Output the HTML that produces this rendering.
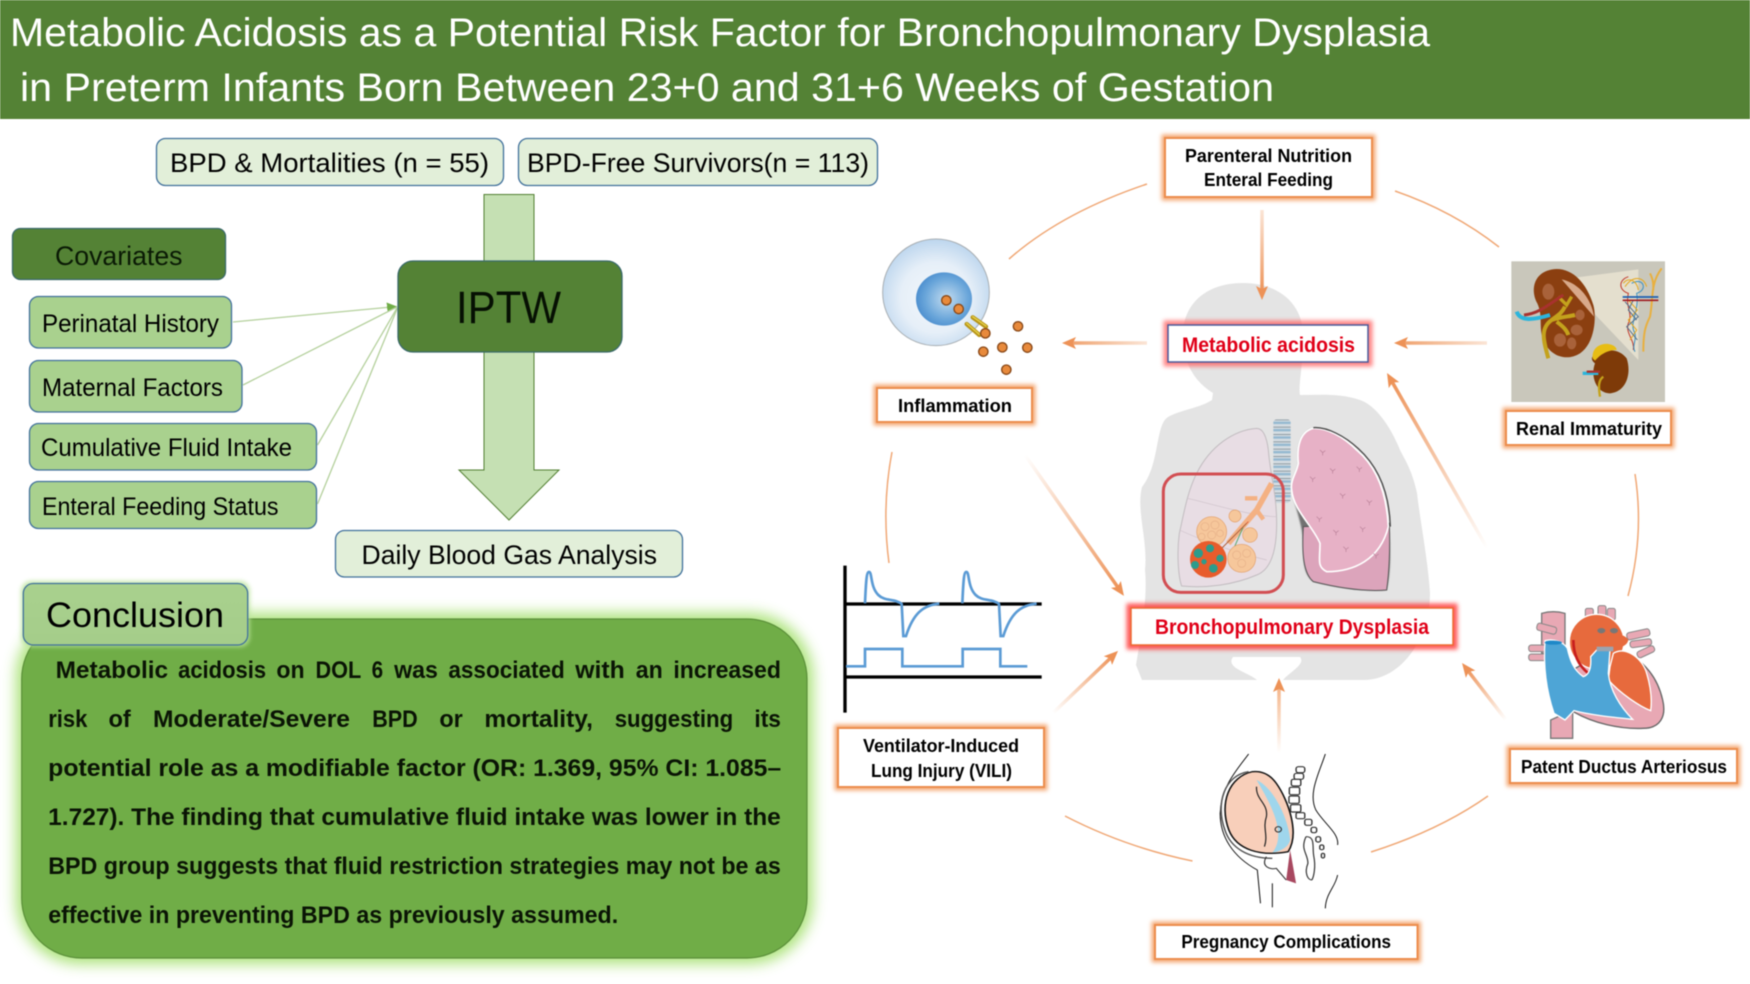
<!DOCTYPE html>
<html lang="en"><head><meta charset="utf-8"><title>Metabolic Acidosis and BPD</title>
<style>
html,body{margin:0;padding:0;background:#fff;width:1750px;height:984px;overflow:hidden}
svg{display:block;filter:blur(.45px)}
text{font-family:"Liberation Sans",sans-serif;fill:#000}
.t{fill:#fff;font-size:40px}
.l{font-size:25px}
.m{font-size:27px}
.p{font-size:24px;font-weight:bold;fill:#0a1405}
.b{font-size:18.5px;font-weight:bold}
.r{font-size:21.5px;font-weight:bold;fill:#e00018}
</style></head><body>
<svg width="1750" height="984" viewBox="0 0 1750 984" xmlns="http://www.w3.org/2000/svg">
<defs>
<filter id="g2" x="-20%" y="-30%" width="140%" height="160%"><feGaussianBlur stdDeviation="2"/></filter>
<filter id="g4" x="-20%" y="-20%" width="140%" height="140%"><feGaussianBlur stdDeviation="5"/></filter>
<filter id="g6" x="-10%" y="-10%" width="120%" height="120%"><feGaussianBlur stdDeviation="7"/></filter>
<marker id="ah" markerUnits="userSpaceOnUse" markerWidth="14" markerHeight="14" viewBox="0 0 14 14" refX="8" refY="7" orient="auto"><path d="M0 1 L14 7 L0 13 L3 7 Z" fill="#ed9257"/></marker>
<marker id="gh" markerUnits="userSpaceOnUse" markerWidth="10" markerHeight="10" viewBox="0 0 9 9" refX="9" refY="4.500" orient="auto"><path d="M0 0 L9 4.500 L0 9 Z" fill="#70ad47"/></marker>
<linearGradient id="a1" gradientUnits="userSpaceOnUse" x1="1262" y1="210" x2="1262" y2="294"><stop offset="0" stop-color="#fbe5d6"/><stop offset="1" stop-color="#ed9257"/></linearGradient>
<linearGradient id="a2" gradientUnits="userSpaceOnUse" x1="1147" y1="343" x2="1068" y2="343"><stop offset="0" stop-color="#fbe5d6"/><stop offset="1" stop-color="#efa06b"/></linearGradient>
<linearGradient id="a3" gradientUnits="userSpaceOnUse" x1="1487" y1="343" x2="1400" y2="343"><stop offset="0" stop-color="#fbe5d6"/><stop offset="1" stop-color="#efa06b"/></linearGradient>
<linearGradient id="a4" gradientUnits="userSpaceOnUse" x1="1487" y1="548" x2="1390" y2="378"><stop offset="0" stop-color="#fff"/><stop offset="1" stop-color="#ed9257"/></linearGradient>
<linearGradient id="a5" gradientUnits="userSpaceOnUse" x1="1025" y1="455" x2="1120" y2="591"><stop offset="0" stop-color="#fff"/><stop offset="1" stop-color="#ed9257"/></linearGradient>
<linearGradient id="a6" gradientUnits="userSpaceOnUse" x1="1053" y1="713" x2="1114" y2="655"><stop offset="0" stop-color="#fff"/><stop offset="1" stop-color="#ed9257"/></linearGradient>
<linearGradient id="a7" gradientUnits="userSpaceOnUse" x1="1279" y1="753" x2="1279" y2="684"><stop offset="0" stop-color="#fff"/><stop offset="1" stop-color="#f4b183"/></linearGradient>
<linearGradient id="a8" gradientUnits="userSpaceOnUse" x1="1506" y1="720" x2="1466" y2="668"><stop offset="0" stop-color="#fff"/><stop offset="1" stop-color="#ed9257"/></linearGradient>
<radialGradient id="cell" cx=".5" cy=".55" r=".55"><stop offset="0" stop-color="#f4f8fc"/><stop offset=".6" stop-color="#e6eff8"/><stop offset="1" stop-color="#bdd6ee"/></radialGradient>
<radialGradient id="nuc" cx=".55" cy=".5" r=".55"><stop offset="0" stop-color="#c3dcf0"/><stop offset=".7" stop-color="#6aa6da"/><stop offset="1" stop-color="#4d8fcf"/></radialGradient>
<linearGradient id="tab" x1="0" y1="0" x2="0" y2="1"><stop offset="0" stop-color="#a9d18e"/><stop offset="1" stop-color="#a5cd8a"/></linearGradient>
<pattern id="tr" patternUnits="userSpaceOnUse" width="52" height="22" y="478"><rect width="52" height="22" fill="#d5dde2"/><rect y="7" width="52" height="7" fill="#93b8d0"/><rect y="0" width="52" height="3" fill="#8d9aa2"/></pattern>
</defs>

<rect width="1750" height="984" fill="#fff"/>

<!-- header -->
<rect x="0" y="0" width="1750" height="119" fill="#548235"/>
<text class="t" x="10" y="46" textLength="1420" lengthAdjust="spacingAndGlyphs">Metabolic Acidosis as a Potential Risk Factor for Bronchopulmonary Dysplasia</text>
<text class="t" x="20" y="101" textLength="1254" lengthAdjust="spacingAndGlyphs">in Preterm Infants Born Between 23+0 and 31+6 Weeks of Gestation</text>

<!-- group boxes -->
<rect x="156.500" y="138.500" width="347" height="47" rx="9" fill="#e2efd9" stroke="#41719c" stroke-width="1.300"/>
<rect x="518.500" y="138.500" width="359" height="47" rx="9" fill="#e2efd9" stroke="#41719c" stroke-width="1.300"/>
<text class="m" x="170" y="172" textLength="319" lengthAdjust="spacingAndGlyphs">BPD &amp; Mortalities (n = 55)</text>
<text class="m" x="527" y="172" textLength="342" lengthAdjust="spacingAndGlyphs">BPD-Free Survivors(n = 113)</text>

<!-- main arrow -->
<polygon points="484,194.500 534,194.500 534,470 559,470 509,520 459,470 484,470" fill="#c5e0b3" stroke="#527f32" stroke-width="1"/>

<!-- covariates -->
<rect x="12.500" y="228.500" width="213" height="51" rx="8" fill="#548235" stroke="#3a6a6a" stroke-width="1.300"/>
<text class="m" x="55" y="265" textLength="127.500" lengthAdjust="spacingAndGlyphs" style="fill:#0a1a05">Covariates</text>

<rect x="29.500" y="296.500" width="202" height="51.500" rx="9" fill="#a9d18e" stroke="#41719c" stroke-width="1.300"/>
<rect x="29.500" y="360.500" width="212.500" height="51.500" rx="9" fill="#a9d18e" stroke="#41719c" stroke-width="1.300"/>
<rect x="29.500" y="423.500" width="287" height="46.500" rx="9" fill="#a9d18e" stroke="#41719c" stroke-width="1.300"/>
<rect x="29.500" y="481.500" width="287" height="47" rx="9" fill="#a9d18e" stroke="#41719c" stroke-width="1.300"/>
<text class="l" x="42" y="332" textLength="177" lengthAdjust="spacingAndGlyphs">Perinatal History</text>
<text class="l" x="42" y="396" textLength="181" lengthAdjust="spacingAndGlyphs">Maternal Factors</text>
<text class="l" x="41" y="456" textLength="251" lengthAdjust="spacingAndGlyphs">Cumulative Fluid Intake</text>
<text class="l" x="42" y="515" textLength="236.500" lengthAdjust="spacingAndGlyphs">Enteral Feeding Status</text>

<g stroke="#b4d09c" stroke-width="1.300" fill="none">
<line x1="233" y1="322" x2="397" y2="306.500" marker-end="url(#gh)"/>
<line x1="243" y1="385" x2="397" y2="307"/>
<line x1="317.500" y1="445" x2="397" y2="308"/>
<line x1="317.500" y1="504" x2="397" y2="309"/>
</g>

<!-- IPTW -->
<rect x="398" y="261" width="224" height="91" rx="15" fill="#548235" stroke="#3a6a6a" stroke-width="1.300"/>
<text x="456" y="323" style="font-size:45px;fill:#061003" textLength="105" lengthAdjust="spacingAndGlyphs">IPTW</text>

<!-- daily -->
<rect x="335.500" y="530.500" width="347" height="46.500" rx="9" fill="#e2efd9" stroke="#41719c" stroke-width="1.300"/>
<text class="m" x="361.500" y="564" textLength="295.500" lengthAdjust="spacingAndGlyphs">Daily Blood Gas Analysis</text>

<!-- conclusion panel -->
<rect x="16" y="613" width="797" height="351" rx="64" fill="#a3e06c" opacity=".9" filter="url(#g6)"/>
<rect x="21.700" y="619" width="785.300" height="339" rx="60" fill="#70ad47" stroke="#5b8f3a" stroke-width="1.200"/>
<rect x="21" y="581" width="229" height="66" rx="10" fill="#b9e39a" opacity=".8" filter="url(#g2)"/>
<rect x="23.300" y="583.500" width="224.400" height="61.500" rx="10" fill="url(#tab)" stroke="#41719c" stroke-width="1.300"/>
<text x="46" y="627" style="font-size:35px" textLength="178" lengthAdjust="spacingAndGlyphs">Conclusion</text>

<g>
<text class="p" x="55.600" y="678" textLength="112.500" lengthAdjust="spacingAndGlyphs">Metabolic</text>
<text class="p" x="178.100" y="678" textLength="88" lengthAdjust="spacingAndGlyphs">acidosis</text>
<text class="p" x="276.400" y="678" textLength="28.200" lengthAdjust="spacingAndGlyphs">on</text>
<text class="p" x="315.500" y="678" textLength="45.800" lengthAdjust="spacingAndGlyphs">DOL</text>
<text class="p" x="371.600" y="678" textLength="11.500" lengthAdjust="spacingAndGlyphs">6</text>
<text class="p" x="394.100" y="678" textLength="43.800" lengthAdjust="spacingAndGlyphs">was</text>
<text class="p" x="448.400" y="678" textLength="116.400" lengthAdjust="spacingAndGlyphs">associated</text>
<text class="p" x="575.300" y="678" textLength="49.500" lengthAdjust="spacingAndGlyphs">with</text>
<text class="p" x="635.800" y="678" textLength="27" lengthAdjust="spacingAndGlyphs">an</text>
<text class="p" x="673.400" y="678" textLength="107.500" lengthAdjust="spacingAndGlyphs">increased</text>

<text class="p" x="48.200" y="727" textLength="39.200" lengthAdjust="spacingAndGlyphs">risk</text>
<text class="p" x="108.500" y="727" textLength="22.300" lengthAdjust="spacingAndGlyphs">of</text>
<text class="p" x="153" y="727" textLength="197" lengthAdjust="spacingAndGlyphs">Moderate/Severe</text>
<text class="p" x="372.200" y="727" textLength="45.500" lengthAdjust="spacingAndGlyphs">BPD</text>
<text class="p" x="439.400" y="727" textLength="23.400" lengthAdjust="spacingAndGlyphs">or</text>
<text class="p" x="484.400" y="727" textLength="108.500" lengthAdjust="spacingAndGlyphs">mortality,</text>
<text class="p" x="614.700" y="727" textLength="118.500" lengthAdjust="spacingAndGlyphs">suggesting</text>
<text class="p" x="754.400" y="727" textLength="26.500" lengthAdjust="spacingAndGlyphs">its</text>

<text class="p" x="48.200" y="776" textLength="733" lengthAdjust="spacingAndGlyphs">potential role as a modifiable factor (OR: 1.369, 95% CI: 1.085–</text>
<text class="p" x="48.200" y="825" textLength="732.600" lengthAdjust="spacingAndGlyphs">1.727). The finding that cumulative fluid intake was lower in the</text>
<text class="p" x="48.200" y="874" textLength="732.600" lengthAdjust="spacingAndGlyphs">BPD group suggests that fluid restriction strategies may not be as</text>
<text class="p" x="48.200" y="923" textLength="570" lengthAdjust="spacingAndGlyphs">effective in preventing BPD as previously assumed.</text>
</g>

<!-- silhouette -->
<path d="M1243 283 C1205 283 1183 305 1183 335 C1183 360 1192 380 1213 393 L1212 400 C1200 408 1180 410 1168 417 C1155 425 1160 465 1142 487 C1136 510 1148 540 1145 570 C1148 600 1140 640 1136 665 L1142 680 L1257 680 C1248 672 1225 668 1233 657 L1300 657 C1306 664 1290 672 1283 680 L1364 680 C1400 680 1430 640 1430 593 C1428 560 1420 520 1417 493 C1412 470 1405 460 1400 450 C1390 425 1375 405 1360 400 C1340 393 1320 395 1300 395 C1298 385 1303 370 1303 335 C1303 305 1280 283 1243 283 Z" fill="#e4e4e4"/>

<!-- curves -->
<g fill="none" stroke="#f0a876" stroke-width="1.500">
<path d="M1147 184 Q1062 212.500 1009 259"/>
<path d="M1395 191 Q1453 211 1499 247"/>
<path d="M1635 474 Q1644.500 535 1628 596"/>
<path d="M1488 796 Q1440 830 1371 852"/>
<path d="M1065 816 Q1125 847 1192.500 861"/>
<path d="M892 452 Q881.500 507 889 563"/>
</g>

<!-- straight arrows -->
<g fill="none" stroke-width="3.500">
<line x1="1262" y1="210" x2="1262" y2="294" stroke="url(#a1)" marker-end="url(#ah)"/>
<line x1="1147" y1="343" x2="1068" y2="343" stroke="url(#a2)" marker-end="url(#ah)"/>
<line x1="1487" y1="343" x2="1400" y2="343" stroke="url(#a3)" marker-end="url(#ah)"/>
<line x1="1487" y1="548" x2="1390" y2="378.200" stroke="url(#a4)" marker-end="url(#ah)"/>
<line x1="1025" y1="455" x2="1120.500" y2="591" stroke="url(#a5)" marker-end="url(#ah)"/>
<line x1="1053" y1="713" x2="1113.700" y2="655" stroke="url(#a6)" marker-end="url(#ah)"/>
<line x1="1279" y1="753" x2="1279" y2="684" stroke="url(#a7)" marker-end="url(#ah)"/>
<line x1="1506" y1="720" x2="1465.700" y2="667.800" stroke="url(#a8)" marker-end="url(#ah)"/>
</g>

<!-- cell -->
<g transform="translate(830 120) scale(.33333)">
<circle cx="318" cy="517" r="160" fill="url(#cell)" stroke="#a8aeb2" stroke-width="3"/>
<ellipse cx="342" cy="537" rx="84" ry="80" fill="url(#nuc)"/>
<g stroke="#b8951a" stroke-width="13" stroke-linecap="round"><line x1="428" y1="592" x2="468" y2="620"/><line x1="410" y1="612" x2="448" y2="645"/></g>
<g stroke="#e5d24a" stroke-width="4" stroke-linecap="round"><line x1="428" y1="590" x2="468" y2="618"/><line x1="410" y1="610" x2="448" y2="643"/></g>
<g fill="#e88a3c" stroke="#8a4a1a" stroke-width="4">
<circle cx="349" cy="541" r="14"/><circle cx="386" cy="567" r="14"/><circle cx="466" cy="640" r="14"/><circle cx="564" cy="619" r="14"/><circle cx="517" cy="682" r="14"/><circle cx="592" cy="683" r="14"/><circle cx="460" cy="695" r="14"/><circle cx="529" cy="749" r="14"/>
</g>
</g>

<!-- kidney -->
<g transform="translate(1300 120) scale(.33333)">
<rect x="634" y="424" width="461" height="422" fill="#c9c7bb"/>
<polygon points="785,478 1015,448 1015,720" fill="#e4dfce"/>
<path d="M770 447 C700 450 690 510 712 550 C730 590 715 620 730 660 C750 710 800 725 840 700 C885 670 890 590 880 555 C860 490 820 447 770 447 Z" fill="#8b3f10"/>
<path d="M785 478 C840 490 875 540 882 590 Z" fill="#d8a98a"/>
<g fill="#a9623a"><ellipse cx="745" cy="515" rx="18" ry="24"/><ellipse cx="830" cy="630" rx="18" ry="16"/><ellipse cx="780" cy="660" rx="18" ry="20"/><ellipse cx="815" cy="670" rx="14" ry="18"/><ellipse cx="840" cy="585" rx="14" ry="16"/></g>
<path d="M745 715 C730 660 720 625 755 600 C775 585 785 580 795 560 M755 600 C785 590 805 590 825 585 M770 605 C790 620 800 630 805 645" fill="none" stroke="#c4a21c" stroke-width="12"/>
<path d="M775 530 L800 555 L815 530" fill="none" stroke="#c4a21c" stroke-width="10"/>
<path d="M672 585 C720 580 750 550 790 525" fill="none" stroke="#a8322e" stroke-width="9"/>
<path d="M650 575 C660 605 700 600 750 585" fill="none" stroke="#2cb5dc" stroke-width="12"/>
<path d="M910 700 C870 700 870 720 885 730 C870 770 890 820 930 820 C980 815 995 760 980 715 C960 690 930 685 910 700 Z" fill="#7e3a08"/>
<path d="M878 715 C875 680 905 670 925 672 C945 675 950 685 950 690 C920 690 900 705 885 722 Z" fill="#e7bd14"/>
<path d="M848 760 H895" stroke="#2cb5dc" stroke-width="10"/><path d="M860 755 H900" stroke="#a8322e" stroke-width="7"/>
<path d="M900 830 C895 800 895 780 910 770" fill="none" stroke="#c4a21c" stroke-width="7"/>
<g fill="none" stroke-width="3">
<path d="M985 470 C955 480 955 510 985 520 C975 560 1000 580 985 610 C975 640 1005 660 1000 690" stroke="#c0392b"/>
<path d="M995 490 C1030 470 1045 510 1010 520 C1020 570 985 610 1005 640 C1010 660 995 680 1005 695" stroke="#3a8fc0"/>
<path d="M975 500 C1000 465 1030 470 1040 500 M970 490 C985 470 1010 480 1015 510 M985 540 L1012 570 L985 600 L1010 630 L990 660" stroke="#e5a820"/>
<path d="M975 545 L1015 590 L980 620 L1012 660 M1000 540 L985 570 L1010 600" stroke="#54718c"/>
</g>
<path d="M1030 695 C1030 640 1035 620 1050 590 C1060 540 1050 490 1085 445 M1050 460 C1060 480 1060 490 1060 510" fill="none" stroke="#e8b040" stroke-width="6"/>
<path d="M968 531 H1075" stroke="#1c5fb0" stroke-width="5"/><path d="M968 541 H1075" stroke="#a01c22" stroke-width="5"/>
</g>

<!-- ventilator -->
<g transform="translate(820 450) scale(.33333)">
<g stroke="#000" stroke-width="10" fill="none"><line x1="75" y1="347" x2="75" y2="788"/><line x1="78" y1="462" x2="665" y2="462"/><line x1="78" y1="681" x2="665" y2="681"/></g>
<g fill="none" stroke="#5b9bd5" stroke-width="8">
<path d="M135 460 C138 390 140 366 147 366 C157 366 150 410 175 435 C195 455 225 445 245 462 L250 558 L258 558 C280 490 310 465 358 461"/>
<path d="M135 460 C138 390 140 366 147 366 C157 366 150 410 175 435 C195 455 225 445 245 462 L250 558 L258 558 C280 490 310 465 358 461" transform="translate(292 0)"/>
<path d="M78 649 H135 V597 H247 V649 H428 V597 H541 V649 H622"/>
</g>
</g>

<!-- lungs -->
<g transform="translate(1100 260) scale(.33333)">
<rect x="520" y="478" width="52" height="250" rx="10" fill="url(#tr)"/>
<path d="M470 505 C400 510 330 560 290 640 C260 700 250 770 238 820 C230 880 235 950 245 978 C320 985 400 975 470 945 C510 930 530 880 530 790 C530 700 510 640 505 570 C500 530 490 505 470 505 Z" fill="#e8dde4" stroke="#c2bcc0" stroke-width="3"/>
<path d="M262 715 C330 730 460 770 530 770 M238 810 C350 860 420 880 500 900" fill="none" stroke="#cfc3cb" stroke-width="2"/>
<path d="M515 670 L470 750 L385 850" fill="none" stroke="#f4b183" stroke-width="17"/>
<path d="M435 715 H472 M470 750 L490 778" fill="none" stroke="#f4b183" stroke-width="13"/>
<path d="M440 790 L350 880 M430 800 L395 880" fill="none" stroke="#5aa870" stroke-width="3"/>
<path d="M445 785 L360 870" fill="none" stroke="#d8452a" stroke-width="2"/>
<g fill="#f6c79b" stroke="#e2a06c" stroke-width="2"><circle cx="335" cy="815" r="45"/><circle cx="425" cy="895" r="42"/><circle cx="450" cy="825" r="22"/><circle cx="405" cy="768" r="18"/></g>
<circle cx="325" cy="898" r="55" fill="#e85c2c"/>
<g fill="#2c9c8c"><circle cx="295" cy="880" r="14"/><circle cx="330" cy="865" r="12"/><circle cx="360" cy="895" r="11"/><circle cx="285" cy="915" r="12"/><circle cx="340" cy="925" r="13"/><circle cx="312" cy="905" r="8"/></g>
<g fill="none" stroke="#e6b088" stroke-width="2"><circle cx="315" cy="800" r="12"/><circle cx="345" cy="795" r="12"/><circle cx="335" cy="825" r="12"/><circle cx="305" cy="830" r="10"/><circle cx="360" cy="820" r="10"/><circle cx="410" cy="885" r="12"/><circle cx="440" cy="880" r="12"/><circle cx="425" cy="910" r="12"/></g>
<path d="M640 505 C600 515 590 560 595 610 C590 640 570 660 575 690 C590 760 610 800 610 860 C610 920 615 945 640 965 C720 985 800 995 860 990 C875 920 870 850 866 800 C860 700 830 620 770 570 C730 530 680 503 640 505 Z" fill="#555" filter="url(#g2)" opacity=".8"/>
<path d="M610 800 C605 880 610 940 640 965 C720 985 800 995 860 990 C870 920 870 850 868 790 Z" fill="#dca4bb" stroke="#555" stroke-width="3"/>
<path d="M640 505 C600 515 590 560 595 610 C590 640 570 660 575 690 C580 750 640 800 660 850 C660 900 650 920 680 935 C760 935 840 900 865 800 C860 700 830 620 770 570 C730 530 680 503 640 505 Z" fill="#e7b1c6" stroke="#fff" stroke-width="5"/>
<path d="M640 503 C680 500 735 528 775 566 C835 620 868 700 871 800" fill="none" stroke="#4a4a4a" stroke-width="4"/>
<g fill="none" stroke="#b98098" stroke-width="2">
<path d="M660 570 l8 8 l8 -6 M668 578 v8 M690 625 l8 8 l8 -6 M698 633 v8 M630 650 l8 8 l8 -6 M638 658 v8 M770 620 l8 8 l8 -6 M778 628 v8 M720 700 l8 8 l8 -6 M728 708 v8 M650 770 l8 8 l8 -6 M658 778 v8 M800 720 l8 8 l8 -6 M808 728 v8 M730 860 l8 8 l8 -6 M738 868 v8 M780 800 l8 8 l8 -6 M788 808 v8 M700 810 l8 8 l8 -6 M708 818 v8 M820 880 l8 8 l8 -6 M828 888 v8"/>
</g>
<rect x="190" y="642" width="360" height="355" rx="52" fill="none" stroke="#d24e52" stroke-width="9"/>
</g>

<!-- heart -->
<g transform="translate(1440 440) scale(.33333)">
<path d="M332 840 V895 H398 V810 Z" fill="#e8a8b4" stroke="#777" stroke-width="4"/>
<path d="M305 520 Q340 510 375 520 V640 H305 Z" fill="#e8a8b4" stroke="#777" stroke-width="4"/>
<g fill="#e8a8b4" stroke="#888" stroke-width="3">
<rect x="290" y="555" width="60" height="22" rx="8" transform="rotate(15 320 566)"/>
<rect x="266" y="615" width="55" height="20" rx="8"/><rect x="266" y="642" width="55" height="20" rx="8"/>
<rect x="560" y="572" width="70" height="22" rx="8" transform="rotate(-12 595 583)"/><rect x="570" y="600" width="65" height="20" rx="8" transform="rotate(-8 600 610)"/>
<rect x="590" y="625" width="55" height="20" rx="8" transform="rotate(-25 618 635)"/>
<rect x="436" y="505" width="24" height="35" rx="6"/><rect x="474" y="497" width="24" height="35" rx="6"/><rect x="502" y="505" width="24" height="35" rx="6"/>
</g>
<path d="M520 620 C600 650 650 700 668 780 C680 830 660 865 610 865 C540 868 460 850 400 815 L380 700 Z" fill="#e8a8b4" stroke="#666" stroke-width="4"/>
<circle cx="470" cy="605" r="82" fill="#e76a3d" stroke="#fff" stroke-width="4"/>
<path d="M400 600 C400 650 420 680 445 700" fill="none" stroke="#c81e1e" stroke-width="8"/>
<path d="M520 640 C560 615 610 660 620 700 C635 750 635 790 632 812 C600 800 540 760 505 720 L510 680 Z" fill="#e76a3d" stroke="#fff" stroke-width="4"/>
<path d="M470 585 C510 575 555 580 565 600 C560 625 520 630 470 625 Z" fill="#e76a3d"/>
<path d="M315 602 C340 595 370 605 382 625 C390 660 400 690 430 710 C445 705 455 690 452 650 L470 630 L510 630 L505 700 C510 750 540 800 578 838 C520 832 450 825 402 812 L375 840 L342 820 C325 770 308 700 315 602 Z" fill="#4ea5d6" stroke="#fff" stroke-width="4"/>
<ellipse cx="340" cy="608" rx="26" ry="6" fill="#1e88c8"/>
<ellipse cx="484" cy="572" rx="12" ry="8" fill="#777"/><ellipse cx="522" cy="572" rx="12" ry="8" fill="#777"/>
<rect x="470" y="620" width="50" height="14" fill="#9aa4b0"/>
</g>

<!-- pregnancy -->
<g transform="translate(1130 660) scale(.3954 .33333)">
<g fill="none" stroke="#111" stroke-width="2.500">
<path d="M300 282 C270 330 230 380 228 460 C228 530 260 590 322 630 L330 730"/>
<path d="M360 670 V742"/>
<path d="M494 282 C478 340 450 400 470 450 C490 490 530 520 525 555"/>
<path d="M525 645 C520 680 495 700 494 745"/>
</g>
<path d="M310 335 C250 350 225 430 250 510 C270 570 330 590 400 575 C430 520 400 420 370 370 C355 345 335 332 310 335 Z" fill="#f8cfba" stroke="#111" stroke-width="4"/>
<path d="M320 360 C360 380 400 470 405 540 C402 560 380 575 360 578 C400 520 350 420 320 360 Z" fill="#9fd6ec"/>
<path d="M320 380 C318 420 350 430 345 470 C335 505 350 525 340 560" fill="none" stroke="#222" stroke-width="3"/>
<circle cx="375" cy="508" r="8" fill="none" stroke="#333" stroke-width="3"/>
<path d="M300 335 C240 345 215 430 240 510 C255 565 300 595 360 595" fill="none" stroke="#555" stroke-width="4"/>
<path d="M405 570 L420 670 L395 660 Z" fill="#a84860"/>
<path d="M345 590 C330 620 355 630 370 625 L395 660" fill="none" stroke="#333" stroke-width="3"/>
<path d="M445 530 C430 570 450 580 450 610 C440 640 450 660 460 660 M445 530 C470 530 460 560 465 590 C470 620 465 650 460 660" fill="none" stroke="#333" stroke-width="3"/>
<g fill="#fff" stroke="#333" stroke-width="3.500">
<rect x="420" y="320" width="22" height="18" rx="6"/><rect x="415" y="340" width="24" height="18" rx="6"/><rect x="408" y="358" width="24" height="20" rx="5"/><rect x="403" y="382" width="26" height="22" rx="4"/><rect x="402" y="408" width="26" height="22" rx="4"/><rect x="406" y="434" width="26" height="22" rx="4"/><rect x="420" y="458" width="22" height="18" rx="4"/><rect x="442" y="478" width="18" height="18" rx="5"/><rect x="458" y="502" width="14" height="16" rx="5"/><rect x="470" y="530" width="12" height="16" rx="5"/><rect x="480" y="555" width="10" height="14" rx="4"/><rect x="484" y="580" width="8" height="14" rx="4"/>
</g>
</g>

<!-- orange boxes -->
<g fill="none" stroke="#f4a873" stroke-width="7" filter="url(#g2)">
<rect x="1165" y="138" width="207" height="59"/>
<rect x="877" y="388" width="155" height="34"/>
<rect x="1506" y="411" width="165" height="34"/>
<rect x="1510" y="749" width="227" height="34"/>
<rect x="1155" y="925" width="262.500" height="34"/>
<rect x="838" y="728" width="206" height="59"/>
</g>
<g fill="#fff" stroke="#ec8d4d" stroke-width="2">
<rect x="1165" y="138" width="207" height="59"/>
<rect x="877" y="388" width="155" height="34"/>
<rect x="1506" y="411" width="165" height="34"/>
<rect x="1510" y="749" width="227" height="34"/>
<rect x="1155" y="925" width="262.500" height="34"/>
<rect x="838" y="728" width="206" height="59"/>
</g>
<rect x="1168" y="325" width="200" height="37" fill="none" stroke="#f66" stroke-width="9" opacity=".8" filter="url(#g2)"/>
<rect x="1168" y="325" width="200" height="37" fill="#fff" stroke="#4a5a9a" stroke-width="1.500"/>
<rect x="1131" y="608" width="322" height="37" fill="none" stroke="#f33" stroke-width="9" opacity=".8" filter="url(#g2)"/>
<rect x="1131" y="608" width="322" height="37" fill="#fff" stroke="#ec6a30" stroke-width="1.500"/>

<text class="b" x="1185" y="162" textLength="167" lengthAdjust="spacingAndGlyphs">Parenteral Nutrition</text>
<text class="b" x="1204" y="186" textLength="129" lengthAdjust="spacingAndGlyphs">Enteral Feeding</text>
<text class="b" x="898" y="412" textLength="114" lengthAdjust="spacingAndGlyphs">Inflammation</text>
<text class="b" x="1516" y="435" textLength="146" lengthAdjust="spacingAndGlyphs">Renal Immaturity</text>
<text class="b" x="1521" y="773" textLength="206" lengthAdjust="spacingAndGlyphs">Patent Ductus Arteriosus</text>
<text class="b" x="1181.400" y="948" textLength="209.600" lengthAdjust="spacingAndGlyphs">Pregnancy Complications</text>
<text class="b" x="863" y="752" textLength="156" lengthAdjust="spacingAndGlyphs">Ventilator-Induced</text>
<text class="b" x="871" y="777" textLength="141" lengthAdjust="spacingAndGlyphs">Lung Injury (VILI)</text>
<text class="r" x="1182" y="352" textLength="173" lengthAdjust="spacingAndGlyphs">Metabolic acidosis</text>
<text class="r" x="1155" y="634" textLength="274" lengthAdjust="spacingAndGlyphs">Bronchopulmonary Dysplasia</text>
</svg>
</body></html>
